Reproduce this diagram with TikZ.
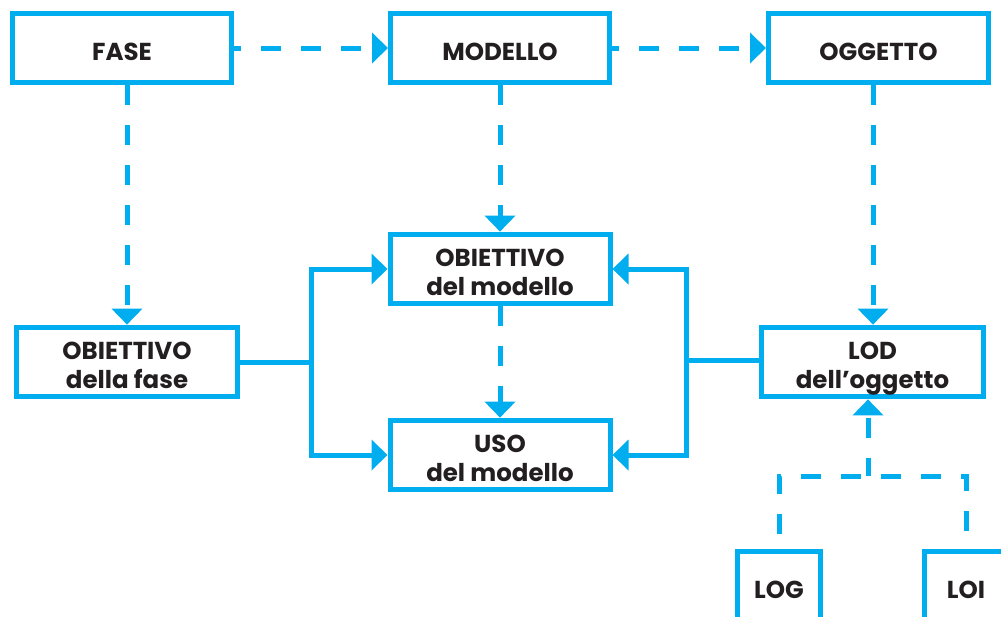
\documentclass[tikz,border=0pt]{standalone}
\usepackage{fontspec}
\setmainfont{Poppins}
\usepackage{xcolor}
\usepackage{tikz}
\usetikzlibrary{arrows.meta,calc}

\definecolor{flowblue}{HTML}{00AEEF}
\definecolor{flowtext}{HTML}{231F20}

% two centred lines, hung from the first baseline
\newcommand\twoline[2]{\begin{tabular}[t]{@{}c@{}}#1\\#2\end{tabular}}

\tikzset{
  box/.style={draw=flowblue,line width=5pt,inner sep=0pt,
    minimum width=220pt,minimum height=69pt,text=flowtext,
    font=\fontsize{24.5}{29}\selectfont\bfseries,
    % fixed strut so every label sits at the same height
    execute at begin node={\rule{0pt}{32pt}},
    execute at end node={\rule[-8pt]{0pt}{8pt}}},
  smallbox/.style={box,minimum width=83pt},
  link/.style={draw=flowblue,line width=5pt},
  dlink/.style={link,dash pattern=on 20pt off 20pt},
}

\begin{document}
\begin{tikzpicture}[x=1pt,y=-1pt,>={Triangle[width=30pt,length=16pt]}]
\useasboundingbox (0,0) rectangle (1001,616);

% top row
\node[box,minimum width=219pt] (fase) at (122,48) {FASE};
\node[box,minimum width=219pt] (modello) at (500,48) {MODELLO};
\node[box,minimum width=220pt] (oggetto) at (878.5,48) {OGGETTO};

% middle
\node[box] (obmod) at (500,269) {\twoline{OBIETTIVO}{del modello}};
\node[box] (uso) at (500,455) {\twoline{USO}{del modello}};
\node[box,minimum width=221pt] (obfase) at (127,362) {\twoline{OBIETTIVO}{della fase}};
\node[box,minimum width=222pt] (lod) at (872.5,362) {\twoline{LOD}{dell’oggetto}};

% bottom
\node[smallbox] (log) at (779,586) {LOG};
\node[smallbox,minimum width=84pt] (loi) at (966,586) {LOI};

\coordinate (lsplit) at (311,362);
\coordinate (rsplit) at (686,360);
\coordinate (join) at (868,476);

% dashed links
\draw[dlink,->,dash phase=13pt] (fase) -- (modello);
\draw[dlink,->,dash phase=13pt] (modello) -- (oggetto);
\draw[dlink,->] (fase.south -| obfase) -- (obfase);
\draw[dlink,->] (modello) -- (obmod);
\draw[dlink,->] (oggetto.south -| 873,0) -- (lod.north -| 873,0);
\draw[dlink,->] (obmod) -- (uso);

% left bracket
\draw[link] (obfase.east) -- (lsplit);
\draw[link,->] (lsplit) |- (obmod.west);
\draw[link,->] (lsplit) |- (uso.west);

% right bracket
\draw[link] (lod.west |- rsplit) -- (rsplit);
\draw[link,->] (rsplit) |- (obmod.east);
\draw[link,->] (rsplit) |- (uso.east);

% LOG / LOI to LOD
\draw[dlink,dash phase=25pt] (log.north) |- (join) -| (loi.north);
\draw[dlink,->,dash phase=2pt] (join) -- (join |- lod.south);
\end{tikzpicture}
\end{document}
